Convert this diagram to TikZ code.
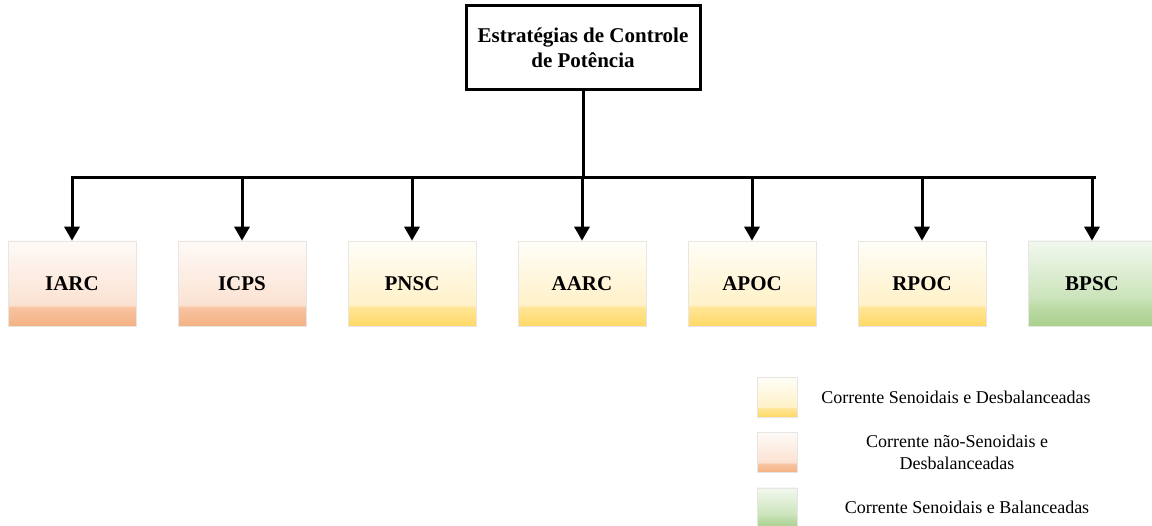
\documentclass[tikz,border=0pt]{standalone}
\usepackage{fontspec}
\setmainfont{Liberation Serif}
\usetikzlibrary{arrows.meta}
\definecolor{orS}{HTML}{F4B183}
\definecolor{orB}{HTML}{F7C4A2}
\definecolor{orM}{HTML}{FBE2D2}
\definecolor{orT}{HTML}{FEFAF7}
\definecolor{yeS}{HTML}{FFD966}
\definecolor{yeB}{HTML}{FFE596}
\definecolor{yeM}{HTML}{FFF1C8}
\definecolor{yeT}{HTML}{FFFEF8}
\definecolor{grS}{HTML}{A9D18E}
\definecolor{grB}{HTML}{B9DAA3}
\definecolor{grM}{HTML}{CCE4BC}
\definecolor{grT}{HTML}{F2F8EE}
\definecolor{edgeg}{HTML}{E6E6E6}
\pgfdeclareverticalshading{orshade}{100bp}{color(0bp)=(orS); color(25bp)=(orS); color(36bp)=(orB); color(37.5bp)=(orM); color(75bp)=(orT); color(100bp)=(orT)}
\pgfdeclareverticalshading{yeshade}{100bp}{color(0bp)=(yeS); color(25bp)=(yeS); color(36bp)=(yeB); color(37.5bp)=(yeM); color(75bp)=(yeT); color(100bp)=(yeT)}
\pgfdeclareverticalshading{grshade}{100bp}{color(0bp)=(grS); color(25bp)=(grS); color(35bp)=(grB); color(42bp)=(grM); color(75bp)=(grT); color(100bp)=(grT)}
\tikzset{
  leaf/.style={draw=edgeg, line width=0.6pt, minimum width=128pt, minimum height=85pt, inner sep=0pt, font=\fontsize{21}{24}\selectfont\bfseries},
  orbox/.style={leaf, shading=orshade},
  yebox/.style={leaf, shading=yeshade},
  grbox/.style={leaf, shading=grshade},
  swatch/.style={draw=edgeg, line width=0.6pt, minimum width=40pt, minimum height=40pt, inner sep=0pt},
  legtext/.style={font=\fontsize{18}{22}\selectfont, align=center},
  conn/.style={line width=3pt},
  arr/.style={line width=3pt, -{Triangle[width=15pt,length=14pt]}},
}
\begin{document}
\begin{tikzpicture}[x=1pt,y=-1pt]
\useasboundingbox (0,0) rectangle (1152,526);
\node[draw, line width=3pt, minimum width=234pt, minimum height=84pt, align=center,
  font=\fontsize{21}{25}\selectfont\bfseries] (root) at (583,48) {Estratégias de Controle\\de Potência};
\node[orbox] (iarc) at (72,283.5) {IARC};
\node[orbox] (icps) at (242,283.5) {ICPS};
\node[yebox] (pnsc) at (412,283.5) {PNSC};
\node[yebox] (aarc) at (582,283.5) {AARC};
\node[yebox] (apoc) at (752,283.5) {APOC};
\node[yebox] (rpoc) at (922,283.5) {RPOC};
\node[grbox] (bpsc) at (1092,283.5) {BPSC};
\coordinate (bus) at (583,178);
\coordinate (busL) at (72,178);
\coordinate (busR) at (1094,178);
\draw[conn] (root.south) -- (bus);
\draw[conn] ([xshift=-1.5pt]busL) -- ([xshift=1.5pt]busR);
\foreach \n in {iarc,icps,pnsc,aarc,apoc,rpoc,bpsc}{
  \draw[arr] (\n.north |- bus) -- (\n.north);
}
\node[swatch, shading=yeshade] (s1) at (777,397) {};
\node[swatch, shading=orshade] (s2) at (777,452.5) {};
\node[swatch, shading=grshade] (s3) at (777,508) {};
\node[legtext] (t1) at (956,397) {Corrente Senoidais e Desbalanceadas};
\node[legtext] (t2) at (957,452) {Corrente não-Senoidais e\\Desbalanceadas};
\node[legtext] (t3) at (967,507) {Corrente Senoidais e Balanceadas};
\end{tikzpicture}
\end{document}
